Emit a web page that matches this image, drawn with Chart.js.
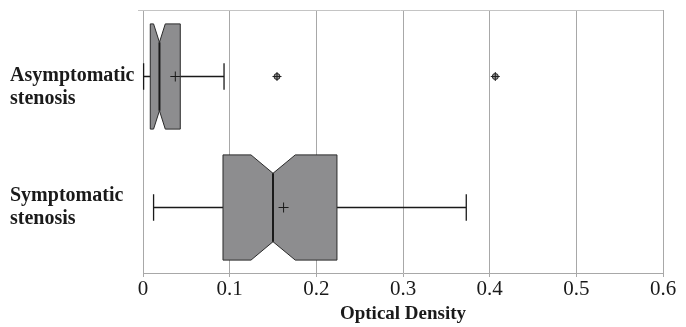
<!DOCTYPE html>
<html>
<head>
<meta charset="utf-8">
<script src="https://cdn.jsdelivr.net/npm/chart.js@4.4.1/dist/chart.umd.min.js"></script>
<style>
html,body{margin:0;padding:0;background:#fff;}
#wrap{width:686px;height:327px;position:relative;}
</style>
</head>
<body>
<div id="wrap"><canvas id="c"></canvas></div>
<script>
const categories = [['', 'Asymptomatic', 'stenosis'], ['Symptomatic', 'stenosis']];
const whiskerLow  = [0.0007, 0.0122];
const q1          = [0.0084, 0.0923];
const median      = [0.019, 0.150];
const q3          = [0.043, 0.2238];
const whiskerHigh = [0.0935, 0.373];
const notchLow    = [0.0122, 0.1246];
const notchHigh   = [0.0257, 0.1757];
const mean        = [0.0373, 0.1622];
const outliers    = [[0.1546, 0.4065], []];
const xTicks      = [0, 0.1, 0.2, 0.3, 0.4, 0.5, 0.6];

const boxPlugin = {
  id: 'boxplot',
  beforeDatasetsDraw(chart) {
    const {ctx, chartArea} = chart;
    ctx.save();
    ctx.strokeStyle = '#c4c4c4';
    ctx.lineWidth = 1;
    ctx.beginPath();
    ctx.moveTo(chartArea.left - 5, Math.round(chartArea.top) + 0.5);
    ctx.lineTo(chartArea.right, Math.round(chartArea.top) + 0.5);
    ctx.stroke();
    ctx.restore();
  },
  afterDatasetsDraw(chart) {
    const {ctx, scales} = chart;
    const x = scales.x, y = scales.y;
    const step = y.getPixelForValue(1) - y.getPixelForValue(0);
    const hh = step * 0.4;
    const nh = step * 0.26;
    const ch = step * 0.1;
    ctx.save();
    for (let i = 0; i < q1.length; i++) {
      const cy = Math.round(y.getPixelForValue(i)) + 0.5;
      const X = v => x.getPixelForValue(v);
      ctx.strokeStyle = '#1a1a1a';
      ctx.lineWidth = 1.3;
      ctx.beginPath();
      ctx.moveTo(X(whiskerLow[i]), cy); ctx.lineTo(X(q1[i]), cy);
      ctx.moveTo(X(q3[i]), cy); ctx.lineTo(X(whiskerHigh[i]), cy);
      ctx.moveTo(X(whiskerLow[i]), cy - ch); ctx.lineTo(X(whiskerLow[i]), cy + ch);
      ctx.moveTo(X(whiskerHigh[i]), cy - ch); ctx.lineTo(X(whiskerHigh[i]), cy + ch);
      ctx.stroke();
      ctx.beginPath();
      ctx.moveTo(X(q1[i]), cy - hh);
      ctx.lineTo(X(notchLow[i]), cy - hh);
      ctx.lineTo(X(median[i]), cy - nh);
      ctx.lineTo(X(notchHigh[i]), cy - hh);
      ctx.lineTo(X(q3[i]), cy - hh);
      ctx.lineTo(X(q3[i]), cy + hh);
      ctx.lineTo(X(notchHigh[i]), cy + hh);
      ctx.lineTo(X(median[i]), cy + nh);
      ctx.lineTo(X(notchLow[i]), cy + hh);
      ctx.lineTo(X(q1[i]), cy + hh);
      ctx.closePath();
      ctx.fillStyle = '#8d8d8f';
      ctx.fill();
      ctx.strokeStyle = '#2a2a2a';
      ctx.lineWidth = 1;
      ctx.stroke();
      ctx.beginPath();
      ctx.lineWidth = 2;
      ctx.strokeStyle = '#1a1a1a';
      ctx.moveTo(X(median[i]), cy - nh); ctx.lineTo(X(median[i]), cy + nh);
      ctx.stroke();
      ctx.lineWidth = 1;
      ctx.beginPath();
      const mx = X(mean[i]);
      ctx.moveTo(mx - 5, cy); ctx.lineTo(mx + 5, cy);
      ctx.moveTo(mx, cy - 5); ctx.lineTo(mx, cy + 5);
      ctx.stroke();
      for (const o of outliers[i]) {
        const ox = X(o);
        ctx.beginPath();
        ctx.arc(ox, cy, 3, 0, Math.PI * 2);
        ctx.fillStyle = '#999';
        ctx.fill();
        ctx.strokeStyle = '#222';
        ctx.stroke();
        ctx.beginPath();
        ctx.moveTo(ox - 4.5, cy); ctx.lineTo(ox + 4.5, cy);
        ctx.moveTo(ox, cy - 4.5); ctx.lineTo(ox, cy + 4.5);
        ctx.stroke();
      }
    }
    ctx.restore();
  }
};

new Chart(document.getElementById('c'), {
  type: 'bar',
  data: {
    labels: categories,
    datasets: [{
      data: q1.map((v, i) => [v, q3[i]]),
      backgroundColor: 'rgba(0,0,0,0)',
      borderWidth: 0
    }]
  },
  plugins: [boxPlugin],
  options: {
    indexAxis: 'y',
    responsive: true,
    maintainAspectRatio: false,
    animation: false,
    events: [],
    layout: { padding: { left: 10, right: 23, top: 10, bottom: 0 } },
    plugins: { legend: { display: false }, tooltip: { enabled: false } },
    scales: {
      x: {
        type: 'linear',
        min: 0, max: 0.6,
        afterBuildTicks: s => { s.ticks = xTicks.map(v => ({ value: v })); },
        afterFit: s => { s.height = 54; s.paddingLeft = 0; s.paddingRight = 0; },
        grid: { color: '#a8a8a8', lineWidth: 1, tickLength: 4, drawTicks: true },
        border: { color: '#a8a8a8' },
        ticks: {
          color: '#1a1a1a',
          padding: 0,
          font: { family: 'Liberation Serif', size: 21 },
          callback: v => String(Math.round(v * 10) / 10)
        },
        title: {
          display: true,
          text: 'Optical Density',
          color: '#1a1a1a',
          padding: { top: 0, bottom: 2 },
          font: { family: 'Liberation Serif', size: 19, weight: 'bold' }
        }
      },
      y: {
        afterFit: s => { s.width = 133; s.paddingTop = 0; s.paddingBottom = 0; },
        grid: { display: false },
        border: { color: '#a8a8a8' },
        ticks: {
          color: '#1a1a1a',
          crossAlign: 'far',
          padding: 0,
          font: { family: 'Liberation Serif', size: 20, weight: 'bold', lineHeight: 1.15 }
        }
      }
    }
  }
});
</script>
</body>
</html>
